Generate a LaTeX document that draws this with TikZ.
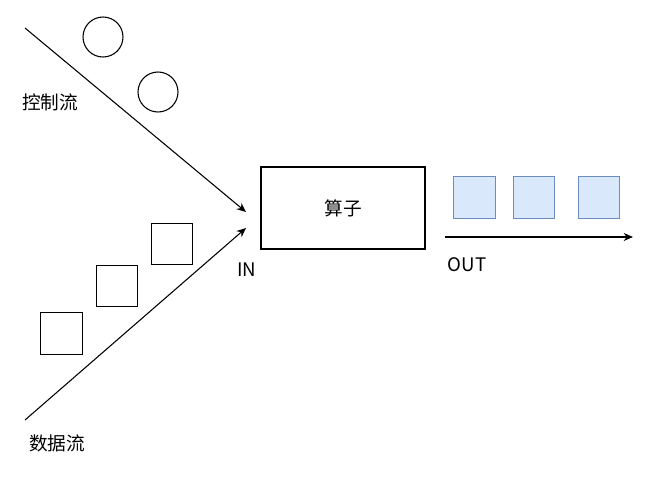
\documentclass[tikz,border=0pt]{standalone}
\usepackage{fontspec}
\usetikzlibrary{arrows.meta}
\setmainfont{Noto Sans CJK SC}
\begin{document}
\begin{tikzpicture}[x=0.75pt,y=-0.75pt,
  lbl/.style={font=\fontsize{14}{16}\selectfont},
  sq/.style={draw,line width=0.8pt,minimum size=31pt,inner sep=0pt},
  bsq/.style={sq,draw={rgb,255:red,108;green,142;blue,191},fill={rgb,255:red,218;green,232;blue,252}},
  arr/.style={-{Stealth[length=7pt,width=6pt]},line width=0.8pt}]
\useasboundingbox (0,0) rectangle (659,486);
\coordinate (cs) at (25,28); \coordinate (ce) at (246,212);
\coordinate (ds) at (25,420); \coordinate (de) at (246,228);
\draw[arr] (cs) -- (ce);
\draw[arr] (ds) -- (de);
\node[draw,circle,line width=0.8pt,minimum size=30pt,inner sep=0pt] (c1) at (103,37) {};
\node[draw,circle,line width=0.8pt,minimum size=30pt,inner sep=0pt] (c2) at (158,92) {};
\node[sq] (s1) at (172,244) {};
\node[sq] (s2) at (117,286) {};
\node[sq] (s3) at (61.5,333.5) {};
\node[lbl] (ctl) at (50,102) {控制流};
\node[lbl] (dat) at (57,443) {数据流};
\node[draw,line width=0.8pt,minimum width=123pt,minimum height=61.5pt,lbl] (op) at (343,208) {算子};
\node[lbl] (in) at (247,270) {IN};
\node[bsq] (b1) at (474.5,197.5) {};
\node[bsq] (b2) at (534,197.5) {};
\node[bsq] (b3) at (599,197.5) {};
\coordinate (os) at (445,237); \coordinate (oe) at (633,237);
\draw[arr] (os) -- (oe);
\node[lbl] (out) at (467,265) {OUT};
\end{tikzpicture}
\end{document}
